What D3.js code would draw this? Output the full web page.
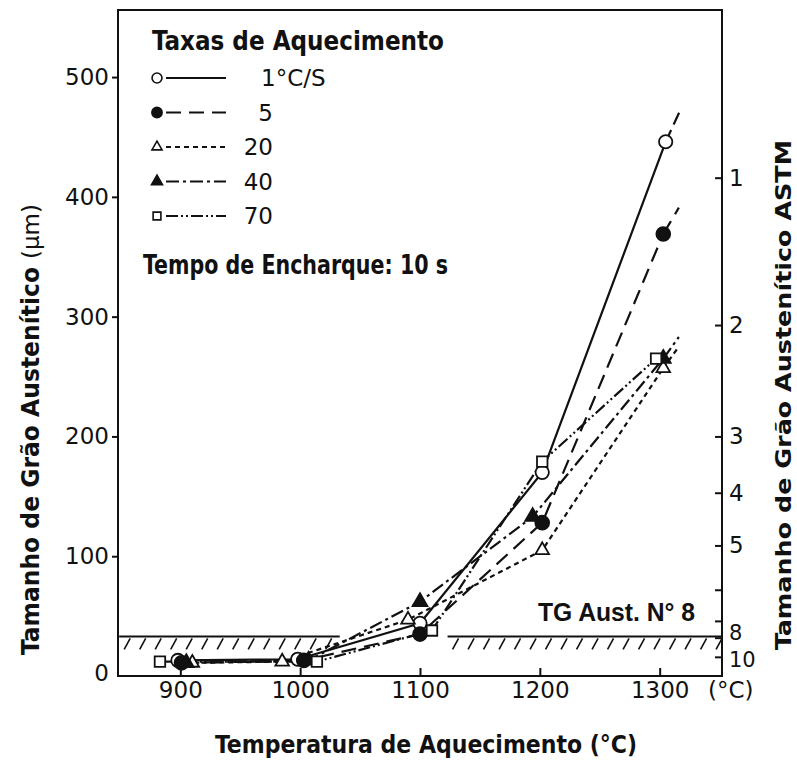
<!DOCTYPE html>
<html>
<head>
<meta charset="utf-8">
<script src="https://cdn.jsdelivr.net/npm/d3@7"></script>
<style>
body { margin: 0; background: #fff; }
svg text { fill: #111; }
.num { font-family: "DejaVu Sans", sans-serif; font-size: 23px; }
.bold { font-family: "Liberation Sans Narrow", "DejaVu Sans Condensed", "Liberation Sans", sans-serif; font-weight: bold; }
</style>
</head>
<body>
<div id="chart"></div>
<script>
// temperature axis (°C) and grain size axis (µm)
const tempTicks = [900, 1000, 1100, 1200, 1300];
const sizeTicks = [0, 100, 200, 300, 400, 500];
// ASTM grain number on the right axis, placed at its equivalent size in µm
const astmLabels = ['1', '2', '3', '4', '5', '', '', '8', '10'];
const astmSizes = [416, 293, 200, 153, 109, 72, 46, 32, 16];

const legendLabels = ['1°C/S', '5', '20', '40', '70'];

// heating rate 1 °C/s
const temp1 = [898, 998, 1100, 1202, 1305];
const size1 = [13, 14, 44, 170, 446];
const ext1 = [1317, 472];
// 5 °C/s
const temp5 = [901, 1003, 1100, 1202, 1303];
const size5 = [11, 13, 35, 128, 369];
const ext5 = [1316, 391];
// 20 °C/s
const temp20 = [910, 985, 1090, 1202, 1303];
const size20 = [11, 12, 47, 105, 257];
const ext20 = [1316, 275];
// 40 °C/s
const temp40 = [905, 1007, 1100, 1194, 1303];
const size40 = [11, 13, 62, 133, 265];
const ext40 = [1316, 283];
// 70 °C/s
const temp70 = [883, 1014, 1110, 1202, 1297];
const size70 = [12, 12, 38, 179, 265];

// ASTM n° 8 limit
const bandLevel = 33;
const bandSegments = [[849, 1033], [1123, 1352]];

const W = 797, H = 762;
const svg = d3.select('#chart').append('svg')
  .attr('width', W).attr('height', H);

const x = d3.scaleLinear().domain([848, 1352]).range([118, 722]);
const y = d3.scaleLinear().domain([0, 556]).range([676, 10]);

const series = [
  { t: temp1,  v: size1,  ext: ext1,  sym: d3.symbolCircle,   size: 140, fill: '#fff', dash: null },
  { t: temp5,  v: size5,  ext: ext5,  sym: d3.symbolCircle,   size: 150, fill: '#111', dash: '15,8' },
  { t: temp20, v: size20, ext: ext20, sym: d3.symbolTriangle, size: 80,  fill: '#fff', dash: '5,4' },
  { t: temp40, v: size40, ext: ext40, sym: d3.symbolTriangle, size: 95,  fill: '#111', dash: '13,4,3,4' },
  { t: temp70, v: size70, ext: null,  sym: d3.symbolSquare,   size: 110, fill: '#fff', dash: '12,3,2,3,2,3' }
];

// hatched limit band
const band = svg.append('g').attr('stroke', '#111').attr('fill', 'none');
bandSegments.forEach(s => {
  const yb = y(bandLevel);
  band.append('line')
    .attr('x1', x(s[0])).attr('x2', x(s[1]))
    .attr('y1', yb).attr('y2', yb).attr('stroke-width', 2);
  d3.range(x(s[0]) + 8, x(s[1]) - 2, 15.5).forEach(px => {
    band.append('line')
      .attr('x1', px + 3).attr('y1', yb + 2)
      .attr('x2', px - 3).attr('y2', yb + 13)
      .attr('stroke-width', 1.6);
  });
});

// frame
svg.append('rect')
  .attr('x', x.range()[0]).attr('y', y.range()[1])
  .attr('width', x.range()[1] - x.range()[0])
  .attr('height', y.range()[0] - y.range()[1])
  .attr('fill', 'none').attr('stroke', '#111').attr('stroke-width', 2);

// axes
const ax = svg.append('g').attr('transform', 'translate(0,' + y.range()[0] + ')')
  .call(d3.axisBottom(x).tickValues(tempTicks).tickFormat(d3.format('d'))
    .tickSize(-8).tickSizeOuter(0).tickPadding(6));
const ayl = svg.append('g').attr('transform', 'translate(' + x.range()[0] + ',0)')
  .call(d3.axisLeft(y).tickValues(sizeTicks).tickSize(6).tickSizeOuter(0).tickPadding(3));
const ayr = svg.append('g').attr('transform', 'translate(' + x.range()[1] + ',0)')
  .call(d3.axisRight(y).tickValues(astmSizes).tickFormat((d, i) => astmLabels[i])
    .tickSize(-7).tickSizeOuter(0).tickPadding(7));
[ax, ayl, ayr].forEach(g => {
  g.select('.domain').remove();
  g.selectAll('line').attr('stroke', '#111').attr('stroke-width', 2);
  g.selectAll('text').attr('class', 'num').attr('font-family', null).attr('font-size', null);
  g.attr('font-family', null).attr('font-size', null);
});
ayl.selectAll('.tick').filter(d => d === 0).select('line').remove();
ayl.selectAll('.tick').filter(d => d === 0).select('text').attr('dy', '0.2em');
// 8 and 10 sit close together: nudge them apart
ayr.selectAll('.tick text')
  .attr('dy', (d, i) => astmLabels[i] === '8' ? '0.1em' : astmLabels[i] === '10' ? '0.45em' : '0.32em');
ayr.selectAll('.tick').filter((d, i) => astmLabels[i] === '8' || astmLabels[i] === '10')
  .select('text').style('font-size', '21px');

svg.append('text').attr('class', 'num')
  .attr('x', x(1352) - 14).attr('y', y(0) + 22)
  .text('(°C)');

// data lines
const line = d3.line().x(d => x(d[0])).y(d => y(d[1]));
const plot = svg.append('g');
series.forEach(s => {
  const pts = s.t.map((t, i) => [t, s.v[i]]);
  plot.append('path')
    .attr('d', line(pts))
    .attr('fill', 'none').attr('stroke', '#111').attr('stroke-width', 2.2)
    .attr('stroke-dasharray', s.dash);
  if (s.ext) plot.append('path')
    .attr('d', line([pts[pts.length - 1], s.ext]))
    .attr('fill', 'none').attr('stroke', '#111').attr('stroke-width', 2.2)
    .attr('stroke-dasharray', s.dash || '13,6');
});
series.forEach(s => {
  plot.selectAll(null).data(s.t.map((t, i) => [t, s.v[i]])).enter()
    .append('path')
    .attr('transform', d => 'translate(' + x(d[0]) + ',' + y(d[1]) + ')')
    .attr('d', d3.symbol().type(s.sym).size(s.size))
    .attr('fill', s.fill).attr('stroke', '#111').attr('stroke-width', 1.8);
});

// legend
svg.append('text').attr('class', 'bold')
  .attr('x', 152).attr('y', 50).attr('font-size', 26)
  .attr('textLength', 292).attr('lengthAdjust', 'spacingAndGlyphs')
  .text('Taxas de Aquecimento');
const legend = svg.append('g');
series.forEach((s, i) => {
  const ly = 78 + i * 34.5;
  legend.append('line')
    .attr('x1', 166).attr('x2', 226).attr('y1', ly).attr('y2', ly)
    .attr('stroke', '#111').attr('stroke-width', 2.2)
    .attr('stroke-dasharray', s.dash);
  legend.append('path')
    .attr('transform', 'translate(157,' + ly + ')')
    .attr('d', d3.symbol().type(s.sym).size(s.size * 0.55))
    .attr('fill', s.fill).attr('stroke', '#111').attr('stroke-width', 1.6);
  legend.append('text').attr('class', 'num')
    .attr('x', i === 0 ? 261 : 273).attr('y', ly).attr('dy', '0.36em')
    .attr('text-anchor', i === 0 ? 'start' : 'end')
    .text(legendLabels[i]);
});

svg.append('text').attr('class', 'bold')
  .attr('x', 143).attr('y', 274).attr('font-size', 26)
  .attr('textLength', 305).attr('lengthAdjust', 'spacingAndGlyphs')
  .text('Tempo de Encharque: 10 s');

svg.append('text')
  .attr('x', 538).attr('y', 621)
  .attr('font-family', '"Liberation Sans", Arial, sans-serif')
  .attr('font-weight', 'bold').attr('font-size', 25)
  .attr('textLength', 157).attr('lengthAdjust', 'spacingAndGlyphs')
  .text('TG Aust. N° 8');

// axis titles
svg.append('text').attr('class', 'bold')
  .attr('x', 215).attr('y', 753).attr('font-size', 25)
  .attr('textLength', 422).attr('lengthAdjust', 'spacingAndGlyphs')
  .text('Temperatura de Aquecimento (°C)');

const lt = svg.append('g').attr('transform', 'translate(30,655) rotate(-90)');
lt.append('text').attr('class', 'bold')
  .attr('x', 0).attr('y', 9).attr('font-size', 25)
  .attr('textLength', 388).attr('lengthAdjust', 'spacingAndGlyphs')
  .text('Tamanho de Grão Austenítico');
lt.append('text').attr('class', 'num')
  .attr('x', 396).attr('y', 9).attr('font-size', 25)
  .text('(µm)');

svg.append('g').attr('transform', 'translate(784,650) rotate(-90)')
  .append('text').attr('class', 'bold')
  .attr('x', 0).attr('y', 7).attr('font-size', 22)
  .attr('textLength', 510).attr('lengthAdjust', 'spacingAndGlyphs')
  .text('Tamanho de Grão Austenítico ASTM');
</script>
</body>
</html>
